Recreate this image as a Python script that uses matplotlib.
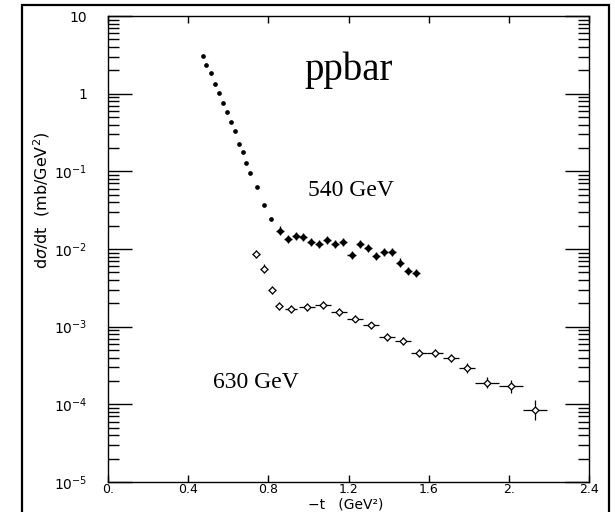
import matplotlib
matplotlib.use("Agg")
import matplotlib.pyplot as plt
from matplotlib.patches import Rectangle
from matplotlib.ticker import FixedLocator, LogLocator, NullFormatter
import numpy as np

# ---------------------------------------------------------------------------
# Data
# ---------------------------------------------------------------------------
# 540 GeV (filled points)
t540 = [0.475, 0.49, 0.515, 0.535, 0.555, 0.575, 0.595, 0.615, 0.633, 0.653,
        0.672, 0.69, 0.71, 0.745, 0.78, 0.815,
        0.86, 0.90, 0.94, 0.975, 1.015, 1.055, 1.095, 1.135, 1.175, 1.215,
        1.255, 1.295, 1.335, 1.375, 1.415, 1.455, 1.495, 1.535]
s540 = [3.05, 2.33, 1.83, 1.35, 1.03, 0.76, 0.58, 0.43, 0.33, 0.226,
        0.18, 0.127, 0.095, 0.063, 0.0365, 0.0245,
        0.0173, 0.0136, 0.0148, 0.0142, 0.0122, 0.0115, 0.0132, 0.0117, 0.0124,
        0.00835, 0.0116, 0.0102, 0.0082, 0.0092, 0.0092, 0.0067, 0.0052, 0.0049]
N_DOTS_540 = 16          # first points drawn as plain dots, rest with bars
xerr540 = 0.02
relerr540 = 0.13

# 630 GeV (open points)
t630 = [0.737, 0.778, 0.817, 0.855, 0.915, 0.994, 1.072, 1.153, 1.233, 1.312,
        1.39, 1.47, 1.55, 1.63, 1.71, 1.79, 1.89, 2.01, 2.13]
s630 = [0.0087, 0.0056, 0.00294, 0.00186, 0.0017, 0.00178, 0.00191, 0.00153,
        0.00127, 0.00104, 0.00074, 0.00065, 0.00046, 0.00046, 0.000395,
        0.000294, 0.000189, 0.00017, 0.0000843]
xerr630 = [0.02, 0.02, 0.02, 0.02, 0.03, 0.04, 0.04, 0.04, 0.04, 0.04,
           0.04, 0.04, 0.04, 0.04, 0.04, 0.04, 0.06, 0.06, 0.06]
relerr630 = [0.13, 0.13, 0.13, 0.13, 0.12, 0.12, 0.12, 0.12, 0.12, 0.12,
             0.12, 0.12, 0.12, 0.12, 0.14, 0.15, 0.18, 0.2, 0.35]

xticks = [0.0, 0.4, 0.8, 1.2, 1.6, 2.0, 2.4]
xticklabels = ["0.", "0.4", "0.8", "1.2", "1.6", "2.", "2.4"]
yticks = [1e-5, 1e-4, 1e-3, 1e-2, 1e-1, 1, 10]
yticklabels = [r"$10^{-5}$", r"$10^{-4}$", r"$10^{-3}$", r"$10^{-2}$",
               r"$10^{-1}$", "1", "10"]

W, H = 615, 512

# ---------------------------------------------------------------------------
fig = plt.figure(figsize=(W / 100, H / 100), dpi=100)
ax = fig.add_axes([108 / W, 1 - 482 / H, 481 / W, 466 / H])

# outer frame around the whole picture
fig.patches.append(Rectangle((22 / W, -0.02), (609 - 22) / W,
                             1.02 - 5 / H, transform=fig.transFigure,
                             fill=False, edgecolor="black", linewidth=1.6))

t540 = np.array(t540); s540 = np.array(s540)
ax.plot(t540[:N_DOTS_540], s540[:N_DOTS_540], "o", color="black",
        markersize=3.4, markeredgewidth=0)
sb = s540[N_DOTS_540:]
ax.errorbar(t540[N_DOTS_540:], sb, xerr=xerr540,
            yerr=[sb * relerr540 / (1 + relerr540), sb * relerr540],
            fmt="D", color="black", markersize=3, elinewidth=1.0,
            capsize=0)

s630 = np.array(s630); r630 = np.array(relerr630)
ax.errorbar(t630, s630, xerr=xerr630,
            yerr=[s630 * r630 / (1 + r630), s630 * r630],
            fmt="D", color="black", markerfacecolor="white",
            markeredgecolor="black", markersize=3.5, markeredgewidth=0.9,
            elinewidth=0.9, capsize=0)

ax.set_yscale("log")
ax.set_xlim(0, 2.4)
ax.set_ylim(1e-5, 10)

ax.xaxis.set_major_locator(FixedLocator(xticks))
ax.set_xticklabels(xticklabels)
ax.yaxis.set_major_locator(FixedLocator(yticks))
ax.set_yticklabels(yticklabels)
ax.yaxis.set_minor_locator(LogLocator(base=10, subs=np.arange(2, 10)))
ax.yaxis.set_minor_formatter(NullFormatter())

ax.tick_params(axis="x", which="major", direction="in", length=5, width=1,
               top=True, bottom=True, labelsize=9, pad=1)
ax.tick_params(axis="y", which="major", direction="in", length=17, width=1,
               left=True, right=True, labelsize=10, pad=15)
ax.tick_params(axis="y", which="minor", direction="in", length=8, width=1,
               left=True, right=True)
for sp in ax.spines.values():
    sp.set_linewidth(1.0)


def label(px, py, s, size, va="center", **kw):
    # place text at pixel position measured from the top-left corner
    fig.text(px / W, 1 - py / H, s, fontsize=size, ha="center", va=va, **kw)


# axis titles, placed where the reference has them
label(346, 511, "\u2212t   (GeV\u00b2)", 10, va="bottom")
label(42, 200, r"d$\sigma$/dt  (mb/GeV$^2$)", 11.5, rotation=90)

label(349, 70, "ppbar", 28, family="Liberation Serif")
label(351, 190, "540 GeV", 17, family="Liberation Serif")
label(256, 383, "630 GeV", 17, family="Liberation Serif")

fig.savefig("out.png", dpi=100)
